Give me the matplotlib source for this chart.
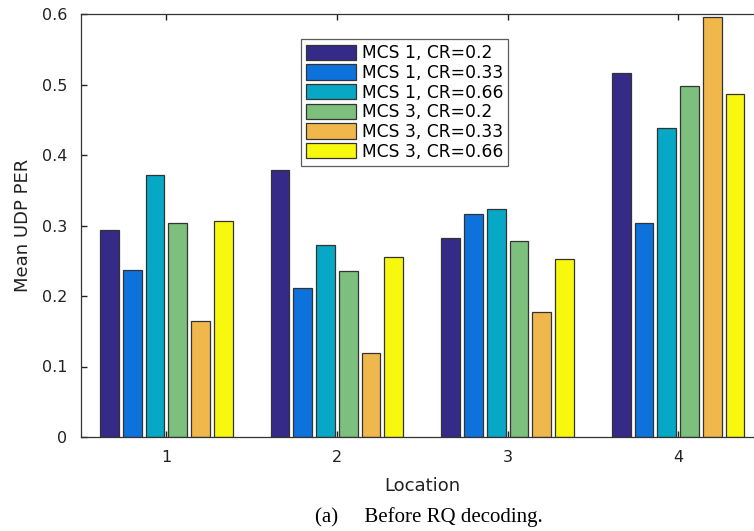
import numpy as np
import matplotlib
matplotlib.use("Agg")
import matplotlib.pyplot as plt

locations = [1, 2, 3, 4]
series_labels = ["MCS 1, CR=0.2", "MCS 1, CR=0.33", "MCS 1, CR=0.66",
                 "MCS 3, CR=0.2", "MCS 3, CR=0.33", "MCS 3, CR=0.66"]
mcs1_cr02 = [0.293, 0.379, 0.282, 0.517]
mcs1_cr033 = [0.237, 0.212, 0.316, 0.304]
mcs1_cr066 = [0.371, 0.272, 0.323, 0.439]
mcs3_cr02 = [0.303, 0.236, 0.278, 0.498]
mcs3_cr033 = [0.164, 0.119, 0.178, 0.596]
mcs3_cr066 = [0.306, 0.256, 0.252, 0.486]
series = [mcs1_cr02, mcs1_cr033, mcs1_cr066, mcs3_cr02, mcs3_cr033, mcs3_cr066]

colors = ["#352a87", "#0d72dc", "#06a8c5", "#7dbf7c", "#f0b84c", "#f8f80f"]

plt.rcParams['font.family'] = ['DejaVu Sans']

fig = plt.figure(figsize=(7.54, 5.31), dpi=100)
# right edge of the axes sits just past the figure, like the cropped original
ax = fig.add_axes([81 / 754, 1 - 437 / 531, 682.5 / 754, 423 / 531])

x = np.array(locations, dtype=float)
pitch = 0.8 / 6
for i, (vals, lab, c) in enumerate(zip(series, series_labels, colors)):
    ax.bar(x + (i - 2.5) * pitch, vals, width=0.11, color=c, edgecolor="#333333",
           linewidth=0.9, label=lab)

ax.set_xlim(0.5, 4.5)
ax.set_ylim(0, 0.6)
ax.set_xticks(locations)
ax.set_yticks(np.arange(0, 0.61, 0.1))
ax.set_yticklabels(["0", "0.1", "0.2", "0.3", "0.4", "0.5", "0.6"])
ax.tick_params(direction="in", top=True, right=True, labelsize=11.5, length=4.5,
               width=1.0, colors="#222222")
ax.tick_params(axis="x", pad=9)
ax.tick_params(axis="y", pad=10)
for s in ax.spines.values():
    s.set_color("#333333")
    s.set_linewidth(0.9)

ax.set_xlabel("Location", fontsize=13, labelpad=9, color="#222222")
ax.set_ylabel("Mean UDP PER", fontsize=13, labelpad=7, color="#222222")

leg = ax.legend(loc="upper left", bbox_to_anchor=(220 / 682.5, 1 - 25 / 423),
                fontsize=12.3, frameon=True, fancybox=False, edgecolor="#333333",
                handlelength=2.9, handleheight=1.0, handletextpad=0.35,
                labelspacing=0.1, borderpad=0.3, borderaxespad=0)
leg.get_frame().set_linewidth(0.9)

fig.text(315 / 754, 1 - 522 / 531, "(a)     Before RQ decoding.",
         family="Liberation Serif", fontsize=15, ha="left", va="baseline")

fig.savefig("out.png", dpi=100)
